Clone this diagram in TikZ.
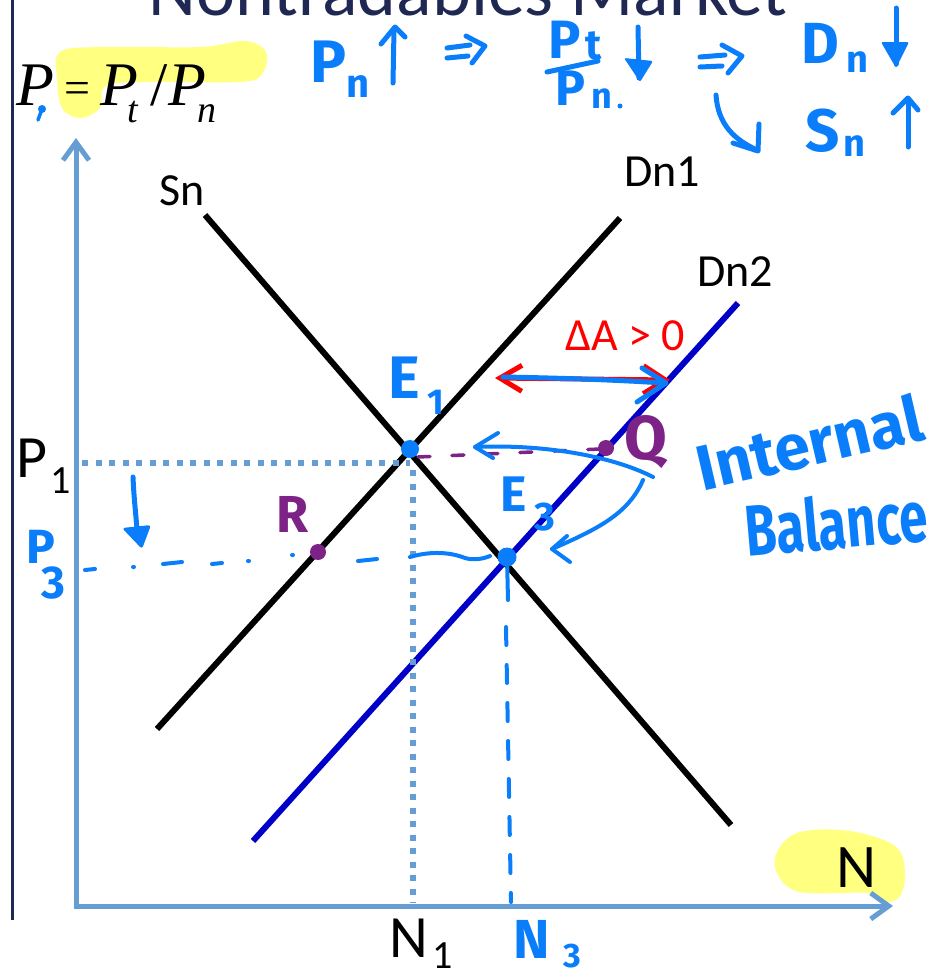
\documentclass[tikz,border=0pt]{standalone}
\usepackage{fontspec}
\setmainfont{Carlito}
\newfontfamily\fmlafont{Liberation Serif}
\newfontfamily\handfont{Fira Sans}
\usetikzlibrary{arrows.meta}
\definecolor{hb}{RGB}{10,125,250}
\definecolor{axisc}{RGB}{102,158,212}
\definecolor{pur}{RGB}{125,35,135}
\definecolor{dnb}{RGB}{0,0,200}
\definecolor{hlc}{RGB}{255,255,128}
\definecolor{navy}{RGB}{31,40,82}
\definecolor{redc}{RGB}{255,0,0}
\newcommand\fs[1]{\fontsize{#1}{#1}\selectfont}
\newcommand\hf{\handfont\bfseries}
\begin{document}
\begin{tikzpicture}[x=1pt,y=-1pt,
  curve/.style={line width=6pt},
  axisline/.style={axisc,line width=5pt,{Straight Barb[length=18pt,width=26pt]}-{Straight Barb[length=18pt,width=26pt]}},
  dotline/.style={axisc,line width=6pt,dash pattern=on 6pt off 7.5pt},
  hand/.style={hb,line width=5pt,line cap=round,line join=round},
  handtext/.style={text=hb,inner sep=0pt},
  lab/.style={inner sep=0pt},
  dot/.style={circle,inner sep=0pt,minimum size=18pt}]
\useasboundingbox (0,0) rectangle (945,975);
\clip (0,0) rectangle (945,975);

% highlights
\fill[hlc] plot[smooth cycle,tension=0.6] coordinates {(60,52) (100,47) (200,47) (245,41) (266,52) (262,74) (240,82) (150,82) (106,86) (100,108) (80,118) (62,108) (57,78)};
\fill[hlc] plot[smooth cycle,tension=0.6] coordinates {(778,850) (800,832) (850,831) (895,846) (905,872) (900,896) (885,902) (868,893) (800,892) (777,873)};

% left rule and title
\coordinate (ruleA) at (12,0); \coordinate (ruleB) at (12,920);
\draw[navy,line width=3pt] (ruleA) -- (ruleB);
\node[lab,anchor=base,font=\fs{74},text=navy] (title) at (468,15) {Nontradables Market};

% axes
\coordinate (O) at (76,906); \coordinate (ytip) at (76,138); \coordinate (xtip) at (893,906);
\draw[axisline] (ytip) -- (O) -- (xtip);

% curves
\coordinate (SnA) at (205,215); \coordinate (SnB) at (731,825);
\coordinate (DaA) at (157,729); \coordinate (DaB) at (620,218);
\coordinate (DbA) at (253,841); \coordinate (DbB) at (738,303);
\draw[curve] (SnA) -- (SnB);
\draw[curve] (DaA) -- (DaB);
\draw[curve,dnb] (DbA) -- (DbB);

% dotted guides
\coordinate (P1a) at (82,463); \coordinate (P1b) at (410,463);
\coordinate (N1a) at (413,470); \coordinate (N1b) at (413,903);
\draw[dotline] (P1a) -- (P1b);
\draw[dotline] (N1a) -- (N1b);

% printed labels
\node[lab,font=\fs{46}] (snlab) at (182,191) {Sn};
\node[lab,font=\fs{46}] (dn1lab) at (662,172) {Dn1};
\node[lab,font=\fs{46}] (dn2lab) at (735,272) {Dn2};
\node[lab,anchor=base west,font=\fs{60}] (p1lab) at (16,477) {P};
\node[lab,anchor=base west,font=\fs{40}] (p1sub) at (50,493) {1};
\node[lab,anchor=base west,font=\fs{60}] (n1lab) at (389,957) {N};
\node[lab,anchor=base west,font=\fs{40}] (n1sub) at (432,968) {1};
\node[lab,anchor=base west,font=\fs{62}] (nlab) at (836,887) {N};
\node[lab,anchor=base,font=\fs{46},text=redc] (dA) at (625,350) {ΔA > 0};

% formula
\node[lab,anchor=base west,font=\fmlafont\itshape\fs{62}] (fP) at (16,105) {P};
\node[lab,anchor=base west,font=\fmlafont\fs{46}] (feq) at (64,103) {=};
\node[lab,anchor=base west,font=\fmlafont\itshape\fs{62}] (fP2) at (100,105) {P};
\node[lab,anchor=base west,font=\fmlafont\itshape\fs{38}] (ft) at (127,122) {t};
\node[lab,anchor=base west,font=\fmlafont\fs{62}] (fsl) at (150,105) {/};
\node[lab,anchor=base west,font=\fmlafont\itshape\fs{62}] (fP3) at (168,105) {P};
\node[lab,anchor=base west,font=\fmlafont\itshape\fs{38}] (fn) at (197,122) {n};
\coordinate (cmA) at (42,109); \coordinate (cmB) at (38,120);
\fill[hb] (cmA) circle (4pt);
\draw[hand,line width=3.5pt] (cmA) -- (cmB);

% handwritten top line
\node[handtext,font=\hf\fs{60}] (hP1) at (328,62) {P};
\node[handtext,font=\hf\fs{40}] (hn1) at (358,87) {n};
\draw[hand] (393,83) -- (394,30);
\draw[hand] (381,44) -- (395,27) -- (405,37);
\draw[hand] (447,48) -- (470,45); \draw[hand] (447,58) -- (468,56);
\draw[hand] (466,36) -- (485,46) -- (472,63);
\node[handtext,font=\hf\fs{54}] (hPt) at (565,40) {P};
\node[handtext,font=\hf\fs{42}] (ht) at (594,46) {t};
\draw[hand] (547,72) -- (598,61);
\node[handtext,font=\hf\fs{50}] (hPn) at (570,88) {P};
\node[handtext,font=\hf\fs{36}] (hnn) at (602,99) {n};
\fill[hb] (620,106) circle (2.5pt);
\draw[hand] (638,27) -- (639,78);
\fill[hb,rounded corners=2pt] (624,58) -- (653,61) -- (640,82) -- cycle;
\draw[hand] (700,57) -- (725,55); \draw[hand] (700,67) -- (722,66);
\draw[hand] (722,45) -- (742,56) -- (728,73);
\node[handtext,font=\hf\fs{58}] (hD) at (820,43) {D};
\node[handtext,font=\hf\fs{38}] (hDn) at (857,62) {n};
\draw[hand] (896,8) -- (896,64);
\fill[hb,rounded corners=2pt] (881,42) -- (909,42) -- (896,68) -- cycle;
\draw[hand] (716,95) .. controls (718,125) and (735,140) .. (757,150);
\draw[hand] (759,124) -- (758,151) -- (733,143);
\node[handtext,font=\hf\fs{60}] (hS) at (823,131) {S};
\node[handtext,font=\hf\fs{38}] (hSn) at (854,146) {n};
\draw[hand] (908,147) -- (908,100);
\draw[hand] (893,113) -- (908,98) -- (918,110);

% delta A arrows
\coordinate (dAl) at (495,378); \coordinate (dAr) at (670,380);
\draw[redc,line width=5pt,{Straight Barb[length=22pt,width=26pt]}-{Straight Barb[length=22pt,width=28pt]}] (dAl) -- (dAr);
\draw[hand] (503,377) .. controls (560,378) and (620,380) .. (663,383);
\draw[hand] (642,368) -- (666,383) -- (637,402);

% purple dashed E1 to Q
\coordinate (pdA) at (418,457); \coordinate (pdB) at (600,449);
\draw[pur,line width=3.5pt,line cap=round,dash pattern=on 12pt off 22pt] (pdA) -- (pdB);

% internal balance arrows
\draw[hand,line width=4pt] (653,477) .. controls (610,455) and (540,444) .. (475,447);
\draw[hand,line width=4pt] (498,433) -- (475,447) -- (493,458);
\draw[hand,line width=4pt] (643,480) .. controls (628,515) and (595,530) .. (552,549);
\draw[hand,line width=4pt] (567,536) -- (552,549) -- (570,562);

% P3 line
\draw[hand] (133,477) .. controls (134,500) and (136,515) .. (137,530);
\fill[hb,rounded corners=3pt] (122,528) -- (151,525) -- (142,549) -- cycle;
\draw[hand,line width=4pt] (85,570) -- (95,569) (133,567) -- (134,567) (163,564) -- (182,562)
  (212,564) -- (222,563) (248,561) -- (249,561) (292,555) -- (293,555) (358,561) -- (377,559);
\draw[hand,line width=4pt] (410,557) .. controls (430,551) and (450,552) .. (465,558) .. controls (475,561) and (485,558) .. (490,556);

% N3 line
\coordinate (n3a) at (508,600); \coordinate (n3b) at (506,627); \coordinate (n3c) at (511,902);
\draw[hand,line width=4pt,dash pattern=on 18pt off 20pt] (n3b) -- (n3c);

% dots
\node[dot,fill=hb] (E1) at (410,449) {};
\node[dot,fill=hb,minimum size=19pt] (E3) at (507,557) {};
\node[dot,fill=pur,minimum size=16pt] (Q) at (606,448) {};
\node[dot,fill=pur,minimum size=16pt] (R) at (318,552) {};
\draw[hand,line width=4pt] (E3) -- (n3a);

% handwritten labels
\node[handtext,font=\hf\fs{60}] (hE1) at (404,378) {E};
\node[handtext,font=\hf\fs{36}] (hE1s) at (436,402) {1};
\node[handtext,font=\hf\fs{50}] (hE3) at (514,494) {E};
\node[handtext,font=\hf\fs{40}] (hE3s) at (545,517) {3};
\node[handtext,text=pur,font=\hf\fs{62}] (hQ) at (646,442) {Q};
\node[handtext,text=pur,font=\hf\fs{52}] (hR) at (293,514) {R};
\node[handtext,font=\hf\fs{48}] (hP3) at (41,547) {P};
\node[handtext,font=\hf\fs{46}] (hP3s) at (53,583) {3};
\node[handtext,font=\hf\fs{55}] (hN3) at (532,939) {N};
\node[handtext,font=\hf\fs{34}] (hN3s) at (572,956) {3};
\node[handtext,font=\hf\fs{64},rotate=13] (hInt) at (809,442) {Internal};
\node[handtext,font=\hf\fs{60},rotate=5] (hBal) at (836,522) {\scalebox{0.85}[1.2]{Balance}};
\end{tikzpicture}
\end{document}
